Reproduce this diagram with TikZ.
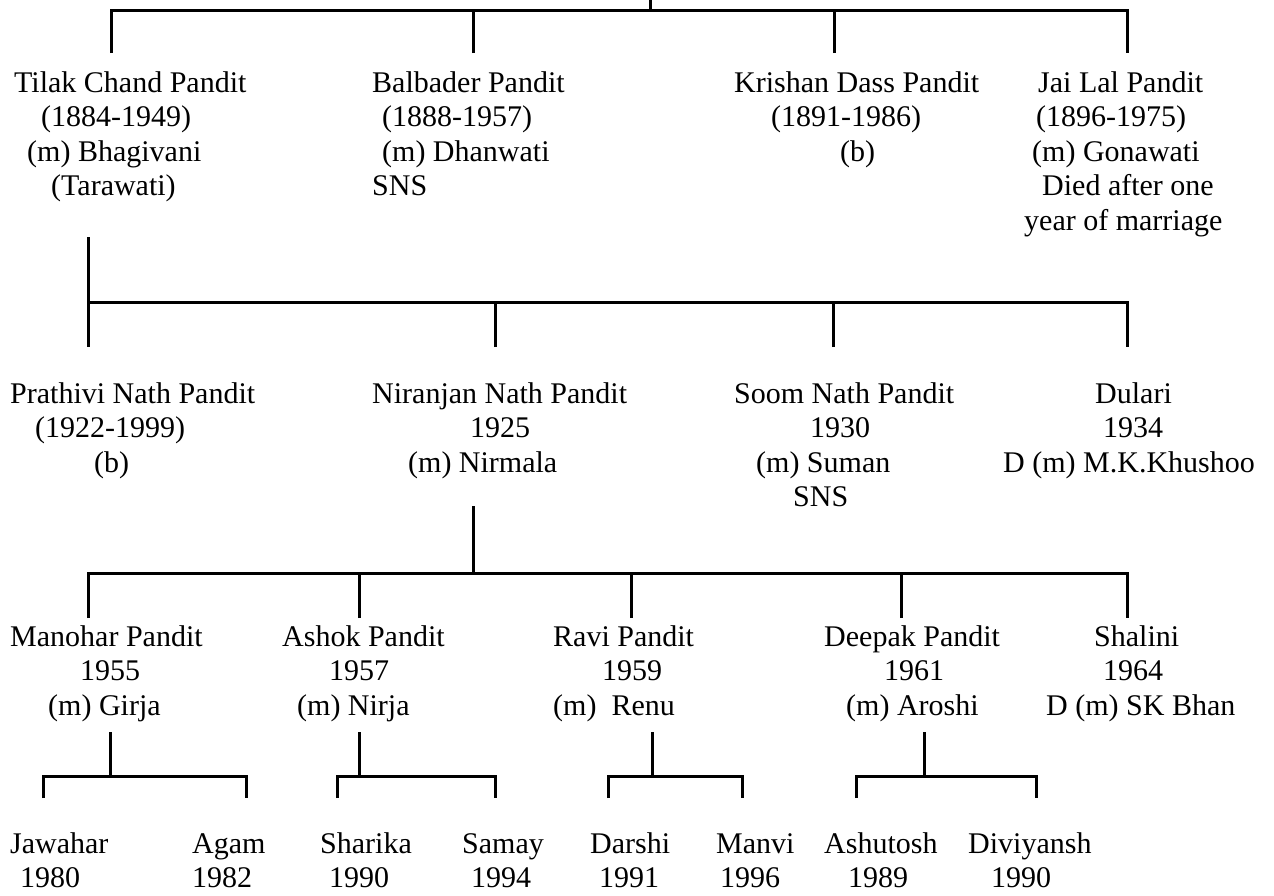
\documentclass[tikz,border=0pt]{standalone}
\usepackage{fontspec}
\setmainfont{Liberation Serif}
% a person's entry: left-set lines, the first line's baseline is the node's baseline
\newcommand{\entry}[1]{\begin{tabular}[t]{@{}l@{}}#1\end{tabular}}
\newcommand{\ind}[1]{\hspace*{#1pt}}
\begin{document}
\begin{tikzpicture}[x=1pt,y=-1pt,
  bus/.style={line width=3pt, line join=miter},
  person/.style={anchor=base west, inner sep=0pt, font=\fontsize{30}{34.5}\selectfont}]
\useasboundingbox (0,0) rectangle (1274,895);

% ---------------- first generation ----------------
\node[person] (tilak)    at (14,92)   {\entry{Tilak Chand Pandit\\ \ind{27}(1884-1949)\\ \ind{13}(m) Bhagivani\\ \ind{37}(Tarawati)}};
\node[person] (balbader) at (372,92)  {\entry{Balbader Pandit\\ \ind{10}(1888-1957)\\ \ind{10}(m) Dhanwati\\ SNS}};
\node[person] (krishan)  at (734,92)  {\entry{Krishan Dass Pandit\\ \ind{37}(1891-1986)\\ \ind{106}(b)}};
\node[person] (jailal)   at (1024,92) {\entry{\ind{14}Jai Lal Pandit\\ \ind{12}(1896-1975)\\ \ind{8}(m) Gonawati\\ \ind{18}Died after one\\ year of marriage}};

\coordinate (root) at (650,0);
\coordinate (g1)   at (650,10);
\coordinate (g1a)  at (111,53);
\coordinate (g1b)  at (473,53);
\coordinate (g1c)  at (834,53);
\coordinate (g1d)  at (1127,53);
\draw[bus] (root) -- (g1);
\draw[bus] (g1a) |- (g1) -| (g1d);
\draw[bus] (g1b) -- (g1b |- g1);
\draw[bus] (g1c) -- (g1c |- g1);

% ---------------- second generation ----------------
\node[person] (prathivi) at (10,403)   {\entry{Prathivi Nath Pandit\\ \ind{25}(1922-1999)\\ \ind{84}(b)}};
\node[person] (niranjan) at (372,403)  {\entry{Niranjan Nath Pandit\\ \ind{98}1925\\ \ind{36}(m) Nirmala}};
\node[person] (soom)     at (734,403)  {\entry{Soom Nath Pandit\\ \ind{76}1930\\ \ind{22}(m) Suman\\ \ind{59}SNS}};
\node[person] (dulari)   at (1003,403) {\entry{\ind{92}Dulari\\ \ind{100}1934\\ D (m) M.K.Khushoo}};

\coordinate (t0)  at (88,237);
\coordinate (g2)  at (88,302);
\coordinate (g2a) at (88,347);
\coordinate (g2b) at (495,347);
\coordinate (g2c) at (833,347);
\coordinate (g2d) at (1127,347);
\draw[bus] (t0) -- (g2a);
\draw[bus] (g2) -| (g2d);
\draw[bus] (g2b) -- (g2b |- g2);
\draw[bus] (g2c) -- (g2c |- g2);

% ---------------- third generation ----------------
\node[person] (manohar) at (10,646)   {\entry{Manohar Pandit\\ \ind{70}1955\\ \ind{38}(m) Girja}};
\node[person] (ashok)   at (282,646)  {\entry{Ashok Pandit\\ \ind{47}1957\\ \ind{15}(m) Nirja}};
\node[person] (ravi)    at (553,646)  {\entry{Ravi Pandit\\ \ind{49}1959\\ (m)~ Renu}};
\node[person] (deepak)  at (824,646)  {\entry{Deepak Pandit\\ \ind{60}1961\\ \ind{22}(m) Aroshi}};
\node[person] (shalini) at (1046,646) {\entry{\ind{48}Shalini\\ \ind{57}1964\\ D (m) SK Bhan}};

\coordinate (n0)  at (473,506);
\coordinate (g3)  at (473,573);
\coordinate (g3a) at (88,618);
\coordinate (g3b) at (359,618);
\coordinate (g3c) at (631,618);
\coordinate (g3d) at (901,618);
\coordinate (g3e) at (1127,618);
\draw[bus] (n0) -- (g3);
\draw[bus] (g3a) |- (g3) -| (g3e);
\draw[bus] (g3b) -- (g3b |- g3);
\draw[bus] (g3c) -- (g3c |- g3);
\draw[bus] (g3d) -- (g3d |- g3);

% ---------------- fourth generation ----------------
\node[person] (jawahar)   at (10,853)  {\entry{Jawahar\\ \ind{10}1980}};
\node[person] (agam)      at (192,853) {\entry{Agam\\ 1982}};
\node[person] (sharika)   at (320,853) {\entry{Sharika\\ \ind{9}1990}};
\node[person] (samay)     at (462,853) {\entry{Samay\\ \ind{9}1994}};
\node[person] (darshi)    at (590,853) {\entry{Darshi\\ \ind{9}1991}};
\node[person] (manvi)     at (716,853) {\entry{Manvi\\ \ind{4}1996}};
\node[person] (ashutosh)  at (824,853) {\entry{Ashutosh\\ \ind{24}1989}};
\node[person] (diviyansh) at (968,853) {\entry{Diviyansh\\ \ind{23}1990}};

% Manohar's children
\coordinate (m0) at (110,732);
\coordinate (m1) at (110,776);
\coordinate (ma) at (43,798);
\coordinate (mb) at (246,798);
\draw[bus] (m0) -- (m1);
\draw[bus] (ma) |- (m1) -| (mb);
% Ashok's children
\coordinate (a0) at (359,732);
\coordinate (a1) at (359,776);
\coordinate (aa) at (337,798);
\coordinate (ab) at (495,798);
\draw[bus] (a0) -- (a1);
\draw[bus] (aa) |- (a1) -| (ab);
% Ravi's children
\coordinate (r0) at (652,732);
\coordinate (r1) at (652,776);
\coordinate (ra) at (608,798);
\coordinate (rb) at (742,798);
\draw[bus] (r0) -- (r1);
\draw[bus] (ra) |- (r1) -| (rb);
% Deepak's children
\coordinate (d0) at (924,732);
\coordinate (d1) at (924,776);
\coordinate (da) at (856,798);
\coordinate (db) at (1036,798);
\draw[bus] (d0) -- (d1);
\draw[bus] (da) |- (d1) -| (db);
\end{tikzpicture}
\end{document}
